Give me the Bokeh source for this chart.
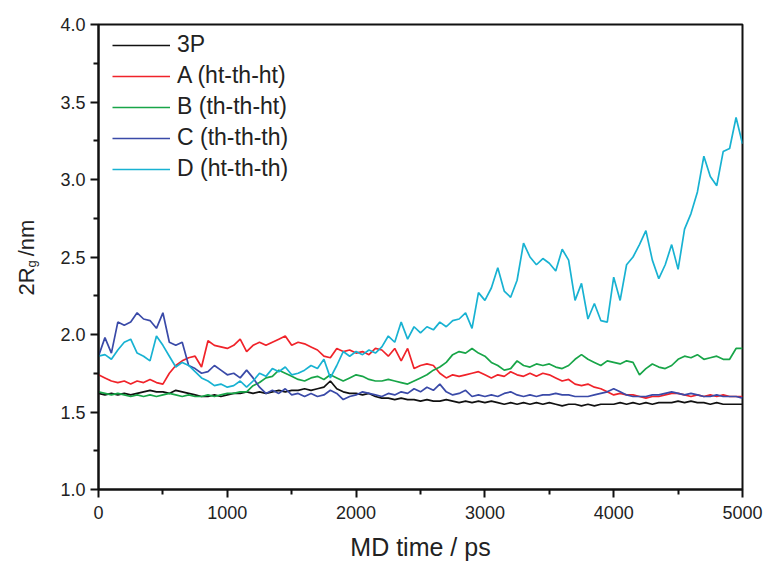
import numpy as np
from bokeh.plotting import figure
from bokeh.models import Label, Legend, LegendItem, FixedTicker, Range1d
from bokeh.embed import file_html
from bokeh.resources import INLINE

# time axis (ps), one sample every 50 ps
time_ps = list(range(0, 5001, 50))

series_names = ["3P", "A (ht-th-ht)", "B (th-th-ht)", "C (th-th-th)", "D (ht-th-th)"]

rg_3P = [1.62, 1.61, 1.62, 1.61, 1.62, 1.61, 1.62, 1.63, 1.64, 1.63,
         1.63, 1.62, 1.64, 1.63, 1.62, 1.61, 1.60, 1.60, 1.61, 1.60,
         1.61, 1.62, 1.62, 1.63, 1.62, 1.63, 1.62, 1.63, 1.64, 1.63,
         1.64, 1.64, 1.65, 1.64, 1.65, 1.66, 1.70, 1.65, 1.63, 1.62,
         1.62, 1.61, 1.62, 1.60, 1.59, 1.59, 1.58, 1.59, 1.58, 1.58,
         1.57, 1.58, 1.57, 1.57, 1.58, 1.57, 1.56, 1.57, 1.56, 1.57,
         1.56, 1.57, 1.56, 1.55, 1.56, 1.55, 1.56, 1.55, 1.56, 1.55,
         1.56, 1.55, 1.54, 1.55, 1.55, 1.54, 1.55, 1.54, 1.55, 1.55,
         1.55, 1.56, 1.55, 1.56, 1.55, 1.56, 1.55, 1.56, 1.56, 1.56,
         1.57, 1.56, 1.57, 1.56, 1.56, 1.55, 1.56, 1.55, 1.55, 1.55,
         1.55]

rg_A = [1.74, 1.72, 1.70, 1.69, 1.70, 1.68, 1.70, 1.69, 1.71, 1.69,
        1.68, 1.75, 1.80, 1.83, 1.85, 1.86, 1.79, 1.96, 1.93, 1.92,
        1.91, 1.93, 1.97, 1.89, 1.93, 1.95, 1.93, 1.95, 1.97, 1.99,
        1.93, 1.95, 1.94, 1.92, 1.90, 1.86, 1.85, 1.91, 1.89, 1.90,
        1.88, 1.89, 1.87, 1.91, 1.90, 1.86, 1.91, 1.83, 1.91, 1.78,
        1.80, 1.81, 1.80, 1.75, 1.72, 1.74, 1.73, 1.74, 1.75, 1.76,
        1.74, 1.72, 1.74, 1.73, 1.76, 1.74, 1.73, 1.75, 1.73, 1.75,
        1.74, 1.72, 1.70, 1.71, 1.68, 1.67, 1.68, 1.66, 1.65, 1.63,
        1.61, 1.62, 1.61, 1.61, 1.60, 1.59, 1.60, 1.60, 1.61, 1.62,
        1.62, 1.61, 1.60, 1.61, 1.60, 1.61, 1.60, 1.61, 1.60, 1.60,
        1.60]

rg_B = [1.63, 1.62, 1.61, 1.62, 1.61, 1.60, 1.61, 1.60, 1.61, 1.60,
        1.61, 1.62, 1.61, 1.60, 1.61, 1.60, 1.60, 1.61, 1.60, 1.61,
        1.62, 1.62, 1.63, 1.63, 1.67, 1.69, 1.72, 1.73, 1.77, 1.75,
        1.73, 1.71, 1.70, 1.72, 1.73, 1.71, 1.74, 1.72, 1.70, 1.72,
        1.74, 1.73, 1.71, 1.70, 1.70, 1.71, 1.70, 1.69, 1.68, 1.70,
        1.72, 1.74, 1.77, 1.79, 1.82, 1.87, 1.89, 1.88, 1.91, 1.88,
        1.86, 1.82, 1.80, 1.77, 1.78, 1.83, 1.80, 1.79, 1.81, 1.80,
        1.81, 1.79, 1.78, 1.80, 1.84, 1.87, 1.84, 1.82, 1.80, 1.83,
        1.82, 1.81, 1.83, 1.82, 1.74, 1.78, 1.81, 1.79, 1.78, 1.80,
        1.84, 1.86, 1.85, 1.87, 1.84, 1.85, 1.86, 1.84, 1.84, 1.91,
        1.91]

rg_C = [1.86, 1.98, 1.88, 2.08, 2.06, 2.08, 2.14, 2.10, 2.09, 2.04,
        2.14, 1.95, 1.93, 1.95, 1.80, 1.78, 1.75, 1.76, 1.80, 1.77,
        1.74, 1.75, 1.72, 1.77, 1.72, 1.66, 1.62, 1.64, 1.62, 1.65,
        1.61, 1.62, 1.60, 1.62, 1.60, 1.61, 1.64, 1.62, 1.58, 1.60,
        1.61, 1.63, 1.62, 1.61, 1.60, 1.62, 1.61, 1.63, 1.62, 1.65,
        1.63, 1.66, 1.64, 1.68, 1.63, 1.61, 1.62, 1.64, 1.60, 1.61,
        1.60, 1.61, 1.60, 1.62, 1.63, 1.61, 1.60, 1.61, 1.60, 1.61,
        1.61, 1.62, 1.61, 1.61, 1.60, 1.60, 1.60, 1.61, 1.62, 1.63,
        1.65, 1.63, 1.61, 1.60, 1.60, 1.60, 1.61, 1.61, 1.62, 1.63,
        1.62, 1.61, 1.62, 1.61, 1.60, 1.60, 1.61, 1.60, 1.60, 1.60,
        1.59]

rg_D = [1.86, 1.87, 1.84, 1.90, 1.95, 1.97, 1.88, 1.86, 1.83, 1.99,
        1.93, 1.86, 1.79, 1.82, 1.80, 1.76, 1.72, 1.70, 1.67, 1.68,
        1.66, 1.67, 1.70, 1.66, 1.70, 1.75, 1.73, 1.78, 1.76, 1.79,
        1.74, 1.75, 1.77, 1.80, 1.78, 1.84, 1.72, 1.80, 1.89, 1.86,
        1.89, 1.87, 1.90, 1.88, 1.92, 1.99, 1.95, 2.08, 1.97, 2.05,
        2.01, 2.05, 2.03, 2.08, 2.05, 2.09, 2.10, 2.14, 2.04, 2.27,
        2.22, 2.30, 2.43, 2.28, 2.24, 2.35, 2.59, 2.50, 2.45, 2.49,
        2.46, 2.41, 2.55, 2.48, 2.22, 2.33, 2.10, 2.20, 2.09, 2.08,
        2.37, 2.22, 2.45, 2.50, 2.58, 2.67, 2.48, 2.36, 2.45, 2.58,
        2.42, 2.68, 2.78, 2.92, 3.15, 3.02, 2.96, 3.18, 3.20, 3.40,
        3.23]

colors = ["#111111", "#f0232a", "#18a548", "#3a4aa8", "#18b2d2"]

x_ticks = [0, 1000, 2000, 3000, 4000, 5000]
y_ticks = [1.0, 1.5, 2.0, 2.5, 3.0, 3.5, 4.0]

FONT = "Liberation Sans"

p = figure(width=769, height=564, output_backend="svg", toolbar_location=None,
           x_range=Range1d(0, 5000), y_range=Range1d(1.0, 4.0),
           min_border_left=98, min_border_right=27, min_border_top=24, min_border_bottom=75)
p.xgrid.visible = False
p.ygrid.visible = False
p.background_fill_color = "white"
p.border_fill_color = "white"
p.outline_line_color = "#111111"
p.outline_line_width = 2

for ax in (p.xaxis[0], p.yaxis[0]):
    ax.axis_line_width = 2
    ax.axis_line_color = "#111111"
    ax.major_tick_line_color = "#111111"
    ax.major_tick_line_width = 2
    ax.minor_tick_line_color = "#111111"
    ax.minor_tick_line_width = 2
    ax.major_tick_in = 0
    ax.major_tick_out = 8
    ax.minor_tick_in = 0
    ax.minor_tick_out = 5
    ax.major_label_text_font = FONT
    ax.major_label_text_font_size = "18px"
    ax.major_label_text_color = "#222222"

p.xaxis.ticker = FixedTicker(ticks=x_ticks, minor_ticks=[500, 1500, 2500, 3500, 4500])
p.yaxis.ticker = FixedTicker(ticks=y_ticks, minor_ticks=[1.25, 1.75, 2.25, 2.75, 3.25, 3.75])
p.xaxis.major_label_overrides = {t: str(t) for t in x_ticks}
p.yaxis.major_label_overrides = {t: f"{t:.1f}" for t in y_ticks}
p.xaxis.major_label_standoff = 8
p.yaxis.major_label_standoff = 5

p.xaxis.axis_label = "MD time / ps"
p.xaxis.axis_label_text_font = FONT
p.xaxis.axis_label_text_font_size = "25px"
p.xaxis.axis_label_text_font_style = "normal"
p.xaxis.axis_label_text_color = "#222222"
p.xaxis.axis_label_standoff = 11

all_series = [rg_3P, rg_A, rg_B, rg_C, rg_D]
renderers = []
for ys, c in zip(all_series, colors):
    r = p.line(time_ps, ys, line_color=c, line_width=1.7)
    renderers.append(r)

legend = Legend(items=[LegendItem(label=n, renderers=[r]) for n, r in zip(series_names, renderers)],
                location=(14, 307), margin=0, padding=0, spacing=4,
                glyph_width=58, glyph_height=26, label_height=26, label_standoff=7,
                label_text_font=FONT, label_text_font_size="23px", label_text_color="#222222",
                border_line_color=None, background_fill_alpha=0)
p.add_layout(legend)

# y-axis label "2R_g/nm": main text with a gap, plus the subscript g, in the left side panel
lab_kw = dict(angle=np.pi / 2, text_font=FONT, text_color="#222222",
              text_align="left", text_baseline="alphabetic")
p.add_layout(Label(x=-560, y=2.252, text="2R\u2002/nm", text_font_size="22px", **lab_kw), "left")
p.add_layout(Label(x=-522, y=2.432, text="g", text_font_size="13px", **lab_kw), "left")

open("out.html", "w").write(file_html(p, INLINE))
